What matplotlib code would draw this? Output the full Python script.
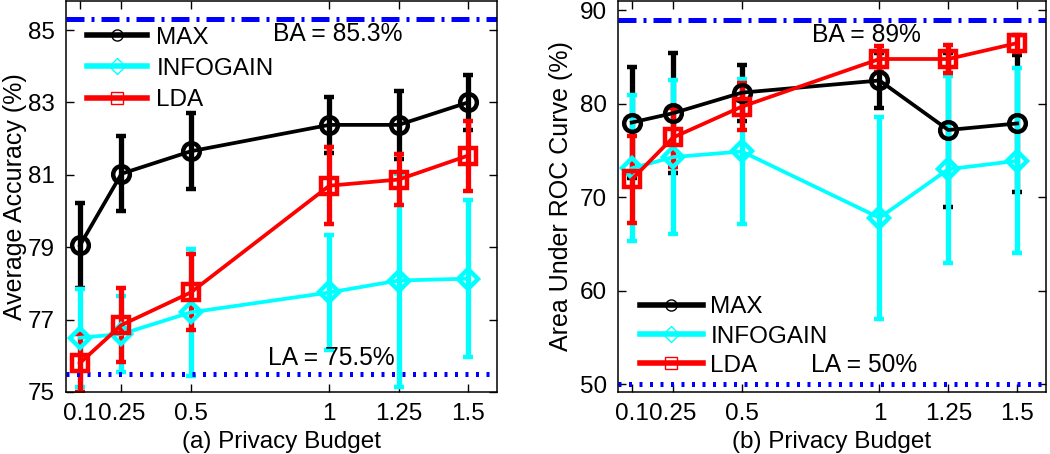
import matplotlib
matplotlib.use('Agg')
import matplotlib.pyplot as plt
from matplotlib.lines import Line2D

plt.rcParams['font.family'] = ['Liberation Sans', 'DejaVu Sans']

budget = [0.1, 0.25, 0.5, 1, 1.25, 1.5]
budget_labels = ['0.1', '0.25', '0.5', '1', '1.25', '1.5']
methods = ['MAX', 'INFOGAIN', 'LDA']

# (a) average accuracy
acc_max = [79.05, 81.03, 81.65, 82.38, 82.38, 83.0]
acc_max_err = [1.17, 1.03, 1.05, 0.78, 0.93, 0.75]
acc_info = [76.5, 76.6, 77.2, 77.75, 78.08, 78.13]
acc_info_err = [1.35, 1.05, 1.75, 1.6, 2.94, 2.17]
acc_lda = [75.8, 76.85, 77.75, 80.7, 80.87, 81.53]
acc_lda_err = [0.8, 1.02, 1.05, 1.07, 0.7, 0.97]
acc_ba, acc_la = 85.3, 75.5

# (b) area under ROC curve
auc_max = [78.0, 79.0, 81.2, 82.5, 77.2, 77.9]
auc_max_err = [5.9, 6.4, 3.0, 2.9, 8.2, 7.3]
auc_info = [73.1, 74.3, 74.9, 67.8, 73.0, 73.9]
auc_info_err = [7.8, 8.2, 7.8, 10.8, 10.0, 9.9]
auc_lda = [71.9, 76.4, 79.7, 84.8, 84.8, 86.5]
auc_lda_err = [4.7, 3.2, 2.5, 1.35, 1.5, 0.9]
auc_ba, auc_la = 89, 50

colors = ['black', 'cyan', 'red']
markers = ['o', 'D', 's']
msizes = [12, 10, 11]

fig = plt.figure(figsize=(10.5, 4.54), dpi=100)
ax1 = fig.add_axes([0.0629, 0.1366, 0.4105, 0.861])
ax2 = fig.add_axes([0.5886, 0.1366, 0.4076, 0.861])


def draw(ax, series, errs, ba, la):
    for vals, err, c, m, ms in zip(series, errs, colors, markers, msizes):
        ax.errorbar(budget, vals, yerr=err, color=c, lw=2.7, marker=m, ms=ms,
                    mfc='none', mec=c, mew=3.2, elinewidth=3.8, capsize=3.5,
                    capthick=3.8)
    ax.axhline(ba, color='blue', lw=3.6, ls=(0, (3.6, 1.4, 0.6, 1.4)))
    ax.axhline(la, color='blue', lw=3.6, ls=(0, (0.6, 1.5)))
    ax.set_xlim(0.05, 1.605)
    ax.set_xticks(budget)
    ax.set_xticklabels(budget_labels)
    ax.tick_params(direction='in', top=True, right=True, length=6, width=1,
                   labelsize=17.5, pad=8)
    for s in ax.spines.values():
        s.set_linewidth(1.1)


def legend_handles():
    return [Line2D([], [], color=c, lw=4, marker=m, ms=8, mfc='none', mec=c, mew=1)
            for c, m in zip(colors, markers)]


draw(ax1, [acc_max, acc_info, acc_lda], [acc_max_err, acc_info_err, acc_lda_err],
     acc_ba, acc_la)
ax1.set_ylim(75, 85.8)
ax1.set_yticks([75, 77, 79, 81, 83, 85])
ax1.set_ylabel('Average Accuracy (%)', fontsize=18, labelpad=1)
ax1.set_xlabel('(a) Privacy Budget', fontsize=17.5, labelpad=4)
ax1.text(0.795, 84.9, 'BA = 85.3%', fontsize=17.7, va='center')
ax1.text(0.777, 75.93, 'LA = 75.5%', fontsize=17.7, va='center')
ax1.legend(legend_handles(), methods, loc='upper left', bbox_to_anchor=(0.049, 0.935),
           frameon=False, fontsize=17.5, borderpad=0, borderaxespad=0,
           handlelength=2.45, handletextpad=0.4, labelspacing=0.38)

draw(ax2, [auc_max, auc_info, auc_lda], [auc_max_err, auc_info_err, auc_lda_err],
     auc_ba, auc_la)
ax2.set_ylim(49.15, 91)
ax2.set_yticks([50, 60, 70, 80, 90])
ax2.set_ylabel('Area Under ROC Curve (%)', fontsize=18, labelpad=5)
ax2.set_xlabel('(b) Privacy Budget', fontsize=17.5, labelpad=4)
ax2.text(0.754, 87.4, 'BA = 89%', fontsize=17.7, va='center')
ax2.text(0.75, 52.0, 'LA = 50%', fontsize=17.7, va='center')
ax2.legend(legend_handles(), methods, loc='upper left', bbox_to_anchor=(0.051, 0.245),
           frameon=False, fontsize=17.5, borderpad=0, borderaxespad=0,
           handlelength=2.6, handletextpad=0.3, labelspacing=0.3)

fig.savefig('out.png', dpi=100)
